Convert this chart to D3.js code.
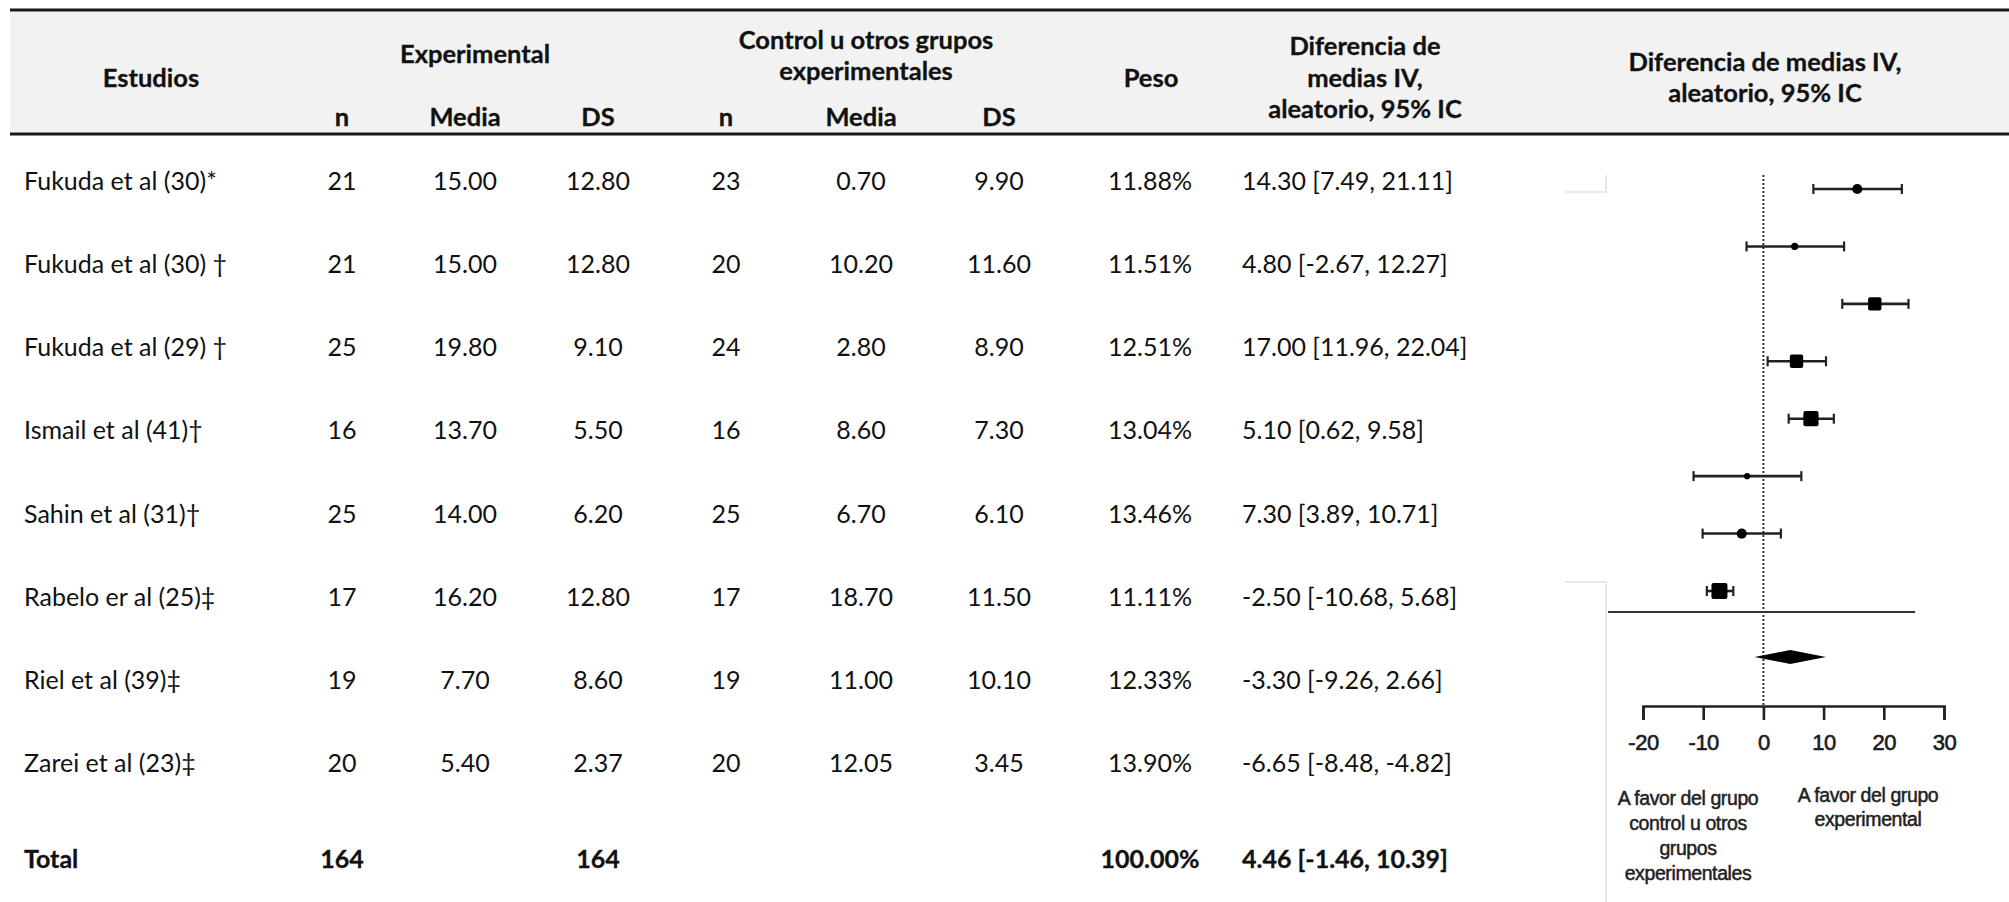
<!DOCTYPE html>
<html>
<head>
<meta charset="utf-8">
<script src="https://cdn.jsdelivr.net/npm/d3@7"></script>
<style>
  html, body { margin: 0; padding: 0; background: #fff; }
  svg { display: block; }
</style>
</head>
<body>
<svg id="chart" width="2009" height="902"></svg>
<script>
// ---------------- DATA ----------------
const studies = ["Fukuda et al (30)*", "Fukuda et al (30) \u2020", "Fukuda et al (29) \u2020", "Ismail et al (41)\u2020",
  "Sahin et al (31)\u2020", "Rabelo er al (25)\u2021", "Riel et al (39)\u2021", "Zarei et al (23)\u2021"];
const expN = [21, 21, 25, 16, 25, 17, 19, 20];
const expMean = [15.00, 15.00, 19.80, 13.70, 14.00, 16.20, 7.70, 5.40];
const expSD = [12.80, 12.80, 9.10, 5.50, 6.20, 12.80, 8.60, 2.37];
const ctrlN = [23, 20, 24, 16, 25, 17, 19, 20];
const ctrlMean = [0.70, 10.20, 2.80, 8.60, 6.70, 18.70, 11.00, 12.05];
const ctrlSD = [9.90, 11.60, 8.90, 7.30, 6.10, 11.50, 10.10, 3.45];
const weights = [11.88, 11.51, 12.51, 13.04, 13.46, 11.11, 12.33, 13.90];
const md = [14.30, 4.80, 17.00, 5.10, 7.30, -2.50, -3.30, -6.65];
const mdLow = [7.49, -2.67, 11.96, 0.62, 3.89, -10.68, -9.26, -8.48];
const mdHigh = [21.11, 12.27, 22.04, 9.58, 10.71, 5.68, 2.66, -4.82];
const totalLabel = "Total";
const totalExpN = 164;
const totalCtrlN = 164;
const totalWeight = 100.00;
const totalMD = 4.46, totalLow = -1.46, totalHigh = 10.39;

// values as drawn in the forest plot image
const plotMean = [15.6, 5.2, 18.5, 5.5, 7.9, -2.7, -3.6, -7.3];
const plotLow = [8.3, -2.8, 13.1, 0.7, 4.2, -11.6, -10.1, -9.4];
const plotHigh = [23.0, 13.4, 24.1, 10.4, 11.7, 6.3, 2.9, -5.0];
const markerWeight = [4, 2, 7, 7, 9, 1.5, 4, 10];

const axisTicks = [-20, -10, 0, 10, 20, 30];
const leftLabel = ["A favor del grupo", "control u otros", "grupos", "experimentales"];
const rightLabel = ["A favor del grupo", "experimental"];

// ---------------- DRAW ----------------
const svg = d3.select("#chart");
const FONT = "Lato, 'Open Sans', sans-serif";
const ink = "#111";

// header background and rules
svg.append("rect").attr("x", 10).attr("y", 10).attr("width", 1999).attr("height", 124).attr("fill", "#f2f2f2");
svg.append("line").attr("x1", 10).attr("x2", 2009).attr("y1", 10).attr("y2", 10).attr("stroke", "#1a1a1a").attr("stroke-width", 3);
svg.append("line").attr("x1", 10).attr("x2", 2009).attr("y1", 134).attr("y2", 134).attr("stroke", "#1a1a1a").attr("stroke-width", 3);

const headers = [
  { t: "Estudios", x: 151, y: 77 },
  { t: "Experimental", x: 475, y: 53 },
  { t: "n", x: 342, y: 116 }, { t: "Media", x: 465, y: 116 }, { t: "DS", x: 598, y: 116 },
  { t: "Control u otros grupos", x: 866, y: 39 }, { t: "experimentales", x: 866, y: 70 },
  { t: "n", x: 726, y: 116 }, { t: "Media", x: 861, y: 116 }, { t: "DS", x: 999, y: 116 },
  { t: "Peso", x: 1151, y: 77 },
  { t: "Diferencia de", x: 1365, y: 45 }, { t: "medias IV,", x: 1365, y: 77 }, { t: "aleatorio, 95% IC", x: 1365, y: 108 },
  { t: "Diferencia de medias IV,", x: 1765, y: 61 }, { t: "aleatorio, 95% IC", x: 1765, y: 92 }
];
svg.append("g").selectAll("text").data(headers).join("text")
  .attr("x", d => d.x).attr("y", d => d.y)
  .attr("text-anchor", "middle").attr("dominant-baseline", "central")
  .attr("font-family", FONT).attr("font-weight", 700).attr("font-size", 25.5)
  .attr("fill", ink).attr("stroke", ink).attr("stroke-width", 0.3).text(d => d.t);

// table rows
const rowY = d3.scalePoint().domain(d3.range(studies.length)).range([180, 762]);
const cols = [
  { key: "n1", x: 342, f: i => String(expN[i]) },
  { key: "m1", x: 465, f: i => expMean[i].toFixed(2) },
  { key: "s1", x: 598, f: i => expSD[i].toFixed(2) },
  { key: "n2", x: 726, f: i => String(ctrlN[i]) },
  { key: "m2", x: 861, f: i => ctrlMean[i].toFixed(2) },
  { key: "s2", x: 999, f: i => ctrlSD[i].toFixed(2) },
  { key: "w", x: 1150, f: i => weights[i].toFixed(2) + "%" }
];
const fmtCI = (m, l, h) => `${m.toFixed(2)} [${l.toFixed(2)}, ${h.toFixed(2)}]`;

const rows = svg.append("g").selectAll("g").data(d3.range(studies.length)).join("g")
  .attr("transform", i => `translate(0,${rowY(i)})`)
  .attr("font-family", FONT).attr("font-size", 25).attr("fill", ink);
rows.append("text").attr("x", 24).attr("dominant-baseline", "central").text(i => studies[i]);
cols.forEach(c => {
  rows.append("text").attr("x", c.x).attr("text-anchor", "middle").attr("dominant-baseline", "central").text(i => c.f(i));
});
rows.append("text").attr("x", 1242).attr("dominant-baseline", "central").text(i => fmtCI(md[i], mdLow[i], mdHigh[i]));

// total row
const tot = svg.append("g").attr("transform", "translate(0,858)")
  .attr("font-family", FONT).attr("font-size", 25).attr("font-weight", 700).attr("fill", ink)
  .attr("stroke", ink).attr("stroke-width", 0.3);
tot.append("text").attr("x", 24).attr("dominant-baseline", "central").text(totalLabel);
tot.append("text").attr("x", 342).attr("text-anchor", "middle").attr("dominant-baseline", "central").text(totalExpN);
tot.append("text").attr("x", 598).attr("text-anchor", "middle").attr("dominant-baseline", "central").text(totalCtrlN);
tot.append("text").attr("x", 1150).attr("text-anchor", "middle").attr("dominant-baseline", "central").text(totalWeight.toFixed(2) + "%");
tot.append("text").attr("x", 1242).attr("dominant-baseline", "central").text(fmtCI(totalMD, totalLow, totalHigh));

// ---------------- FOREST PLOT ----------------
const fp = svg.append("g");
const x = d3.scaleLinear().domain([-20, 30]).range([1643, 1944]);
const py = d3.scalePoint().domain(d3.range(plotMean.length)).range([189, 591]);
const mSize = d3.scaleSqrt().domain([0, 10]).range([0, 16]);

// faint bitmap edge artifacts
const faint = "#e2e2e2";
fp.append("path").attr("d", "M1565,192H1606V175").attr("fill", "none").attr("stroke", faint).attr("stroke-width", 1.5);
fp.append("path").attr("d", "M1565,582H1606V902").attr("fill", "none").attr("stroke", faint).attr("stroke-width", 1.5);

// zero reference line
fp.append("line").attr("x1", x(0)).attr("x2", x(0)).attr("y1", 175).attr("y2", 706)
  .attr("stroke", "#333").attr("stroke-width", 2).attr("stroke-dasharray", "2,2");

const studiesG = fp.append("g").selectAll("g").data(d3.range(plotMean.length)).join("g")
  .attr("transform", i => `translate(0,${py(i)})`);
studiesG.append("line").attr("x1", i => x(plotLow[i])).attr("x2", i => x(plotHigh[i]))
  .attr("stroke", "#222").attr("stroke-width", 2.6);
studiesG.append("line").attr("x1", i => x(plotLow[i])).attr("x2", i => x(plotLow[i])).attr("y1", -5).attr("y2", 5)
  .attr("stroke", "#222").attr("stroke-width", 2.2);
studiesG.append("line").attr("x1", i => x(plotHigh[i])).attr("x2", i => x(plotHigh[i])).attr("y1", -5).attr("y2", 5)
  .attr("stroke", "#222").attr("stroke-width", 2.2);
studiesG.append("rect")
  .attr("x", i => x(plotMean[i]) - mSize(markerWeight[i]) / 2)
  .attr("y", i => -mSize(markerWeight[i]) / 2)
  .attr("width", i => mSize(markerWeight[i]))
  .attr("height", i => mSize(markerWeight[i]))
  .attr("rx", i => mSize(markerWeight[i]) <= 10.5 ? mSize(markerWeight[i]) / 2 : 2)
  .attr("fill", "#000");

// separator line
fp.append("line").attr("x1", x(-25.8)).attr("x2", x(25.2)).attr("y1", 612).attr("y2", 612)
  .attr("stroke", "#333").attr("stroke-width", 1.8);

// summary diamond
const dy = 657;
fp.append("path")
  .attr("d", `M${x(totalLow)},${dy}L${x(totalMD)},${dy - 7}L${x(totalHigh)},${dy}L${x(totalMD)},${dy + 7}Z`)
  .attr("fill", "#000");

// axis
const axisG = fp.append("g").attr("transform", "translate(0,706)")
  .call(d3.axisBottom(x).tickValues(axisTicks).tickSize(14).tickSizeOuter(14).tickPadding(14).tickFormat(d => String(d)));
axisG.selectAll("path, line").attr("stroke", "#222").attr("stroke-width", 2.6);
axisG.selectAll("text").attr("font-family", "'Liberation Sans', Arial, sans-serif")
  .attr("font-size", 22).attr("fill", "#1a1a1a").attr("stroke", "#1a1a1a").attr("stroke-width", 0.6)
  .attr("letter-spacing", -0.5);

// favour labels
const labelStyle = sel => sel
  .attr("text-anchor", "middle").attr("dominant-baseline", "central")
  .attr("font-family", "'Liberation Sans', Arial, sans-serif").attr("font-size", 19.5)
  .attr("letter-spacing", -0.4).attr("fill", "#1f1f1f").attr("stroke", "#1f1f1f").attr("stroke-width", 0.5);
fp.append("g").selectAll("text").data(leftLabel).join("text")
  .attr("x", 1688).attr("y", (d, i) => 798 + i * 25).call(labelStyle).text(d => d);
fp.append("g").selectAll("text").data(rightLabel).join("text")
  .attr("x", 1868).attr("y", (d, i) => 795 + i * 24).call(labelStyle).text(d => d);
</script>
</body>
</html>
